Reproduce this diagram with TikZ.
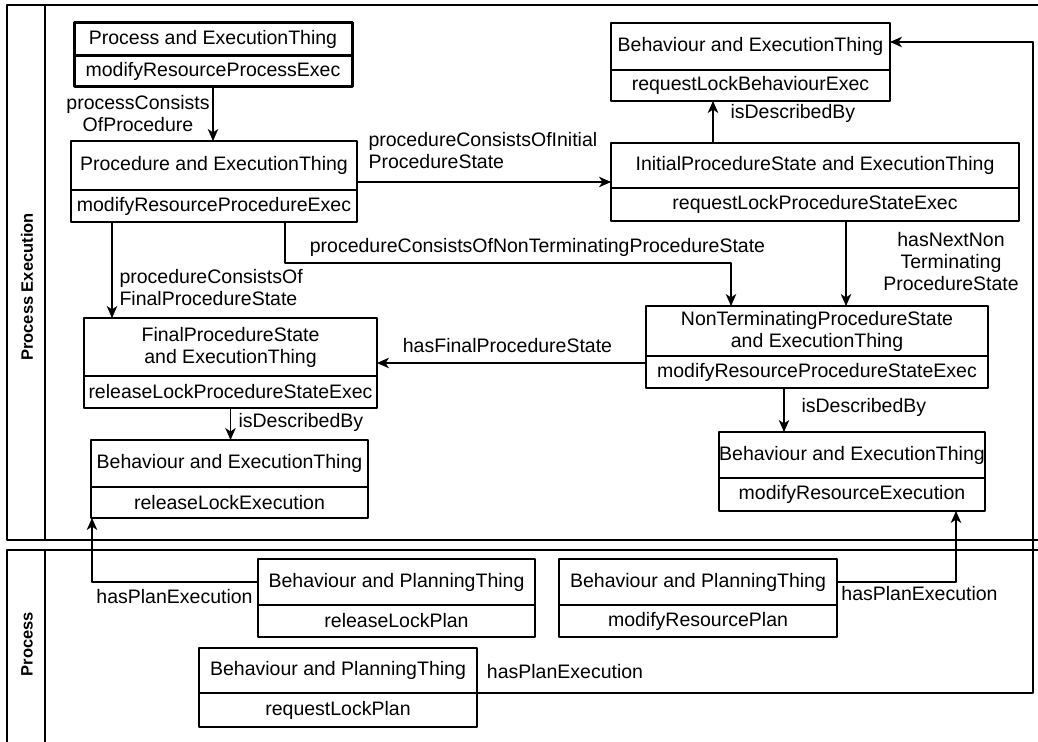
\documentclass[tikz,border=0pt]{standalone}
\usepackage{fontspec}
\setmainfont{Liberation Sans}
\usetikzlibrary{arrows.meta,positioning}

\begin{document}
\begin{tikzpicture}[>={Stealth[length=12bp,width=10.5bp,inset=3.5bp]},line join=bevel,
  font=\fontsize{19.5bp}{22bp}\selectfont,line width=1.1bp,
  umlhead/.style={draw,rectangle,inner sep=0pt,outer sep=0pt,align=center},
  umlbody/.style={draw,rectangle,inner sep=0pt,outer sep=0pt,below=0bp of #1},
  edgelabel/.style={inner sep=0pt},
  flow/.style={black,->},
  pool/.style={draw,line width=1.1bp},
  poolname/.style={font=\fontsize{16.5bp}{20bp}\selectfont\bfseries,rotate=90},
]
\useasboundingbox (0bp,0bp) rectangle (1038bp,742bp);
\clip (0bp,0bp) rectangle (1038bp,742bp);
%% pools
\draw [pool] (7bp,737bp) rectangle (1060bp,202bp);
\draw [pool] (45bp,737bp) -- (45bp,202bp);
\node (lane_exec) at (27bp,455bp) [poolname] {Process Execution};
\draw [pool] (7bp,192bp) rectangle (1060bp,-20bp);
\draw [pool] (45bp,192bp) -- (45bp,-20bp);
\node (lane_plan) at (27bp,98bp) [poolname] {Process};
%% execution things
\node (procexec_head) at (213bp,702.5bp) [umlhead,line width=3bp,minimum width=278bp,minimum height=33bp] {Process and ExecutionThing};
  \node (procexec_body) [umlbody=procexec_head,line width=3bp,minimum width=278bp,minimum height=31bp] {modifyResourceProcessExec};
\node (proc_head) at (214bp,576.5bp) [umlhead,minimum width=286bp,minimum height=49bp] {Procedure and ExecutionThing};
  \node (proc_body) [umlbody=proc_head,minimum width=286bp,minimum height=32bp] {modifyResourceProcedureExec};
\node (reqbeh_head) at (750.5bp,695.5bp) [umlhead,minimum width=279bp,minimum height=47bp] {Behaviour and ExecutionThing};
  \node (reqbeh_body) [umlbody=reqbeh_head,minimum width=279bp,minimum height=31bp] {requestLockBehaviourExec};
\node (init_head) at (815bp,576.5bp) [umlhead,minimum width=408bp,minimum height=45bp] {InitialProcedureState and ExecutionThing};
  \node (init_body) [umlbody=init_head,minimum width=408bp,minimum height=33bp] {requestLockProcedureStateExec};
\node (nonterm_head) at (817bp,411bp) [umlhead,minimum width=342bp,minimum height=50bp] {NonTerminatingProcedureState\\and ExecutionThing};
  \node (nonterm_body) [umlbody=nonterm_head,minimum width=342bp,minimum height=32bp] {modifyResourceProcedureStateExec};
\node (final_head) at (230.5bp,395bp) [umlhead,minimum width=293bp,minimum height=58bp] {FinalProcedureState\\and ExecutionThing};
  \node (final_body) [umlbody=final_head,minimum width=293bp,minimum height=32bp] {releaseLockProcedureStateExec};
\node (relexec_head) at (229.5bp,278.5bp) [umlhead,minimum width=277bp,minimum height=47bp] {Behaviour and ExecutionThing};
  \node (relexec_body) [umlbody=relexec_head,minimum width=277bp,minimum height=31bp] {releaseLockExecution};
\node (modexec_head) at (852bp,287bp) [umlhead,minimum width=266bp,minimum height=46bp] {Behaviour and ExecutionThing};
  \node (modexec_body) [umlbody=modexec_head,minimum width=266bp,minimum height=33bp] {modifyResourceExecution};
%% planning things
\node (relplan_head) at (396.5bp,160bp) [umlhead,minimum width=277bp,minimum height=46bp] {Behaviour and PlanningThing};
  \node (relplan_body) [umlbody=relplan_head,minimum width=277bp,minimum height=32bp] {releaseLockPlan};
\node (modplan_head) at (698bp,160bp) [umlhead,minimum width=278bp,minimum height=46bp] {Behaviour and PlanningThing};
  \node (modplan_body) [umlbody=modplan_head,minimum width=278bp,minimum height=32bp] {modifyResourcePlan};
\node (reqplan_head) at (338bp,71.5bp) [umlhead,minimum width=278bp,minimum height=45bp] {Behaviour and PlanningThing};
  \node (reqplan_body) [umlbody=reqplan_head,minimum width=278bp,minimum height=34bp] {requestLockPlan};
%% relations
\draw [flow] (procexec_body.south) -- (procexec_body.south |- proc_head.north);
  \node (lbl_proc) at (138bp,628bp) [edgelabel,align=center] {processConsists\\OfProcedure};
\draw [flow] ([yshift=8bp]proc_head.south east) -- ([yshift=8bp]proc_head.south east -| init_head.west);
  \node (lbl_init) at (368bp,591.5bp) [edgelabel,anchor=west,align=left] {procedureConsistsOfInitial\\ProcedureState};
\draw [flow] ([xshift=-102bp]init_head.north) -- ([xshift=-102bp]init_head.north |- reqbeh_body.south);
  \node (lbl_initdesc) at (730bp,629bp) [edgelabel,anchor=west] {isDescribedBy};
\draw [flow] ([xshift=71bp]proc_body.south) |- ([xshift=-86bp,yshift=43bp]nonterm_head.north) -- ([xshift=-86bp]nonterm_head.north);
  \node (lbl_nonterm) at (537.5bp,495bp) [edgelabel] {procedureConsistsOfNonTerminatingProcedureState};
\draw [flow] ([xshift=-102bp]proc_body.south) -- ([xshift=-102bp]proc_body.south |- final_head.north);
  \node (lbl_final) at (119bp,454bp) [edgelabel,anchor=west,align=left] {procedureConsistsOf\\FinalProcedureState};
\draw [flow] ([xshift=31bp]init_body.south) -- ([xshift=31bp]init_body.south |- nonterm_head.north);
  \node (lbl_next) at (951bp,480.5bp) [edgelabel,align=center] {hasNextNon\\Terminating\\ProcedureState};
\draw [flow] ([yshift=-7bp]nonterm_head.south west) -- ([yshift=-7bp]nonterm_head.south west -| final_head.east);
  \node (lbl_hasfinal) at (507.5bp,396bp) [edgelabel] {hasFinalProcedureState};
\draw [flow] ([xshift=-33bp]nonterm_body.south) -- ([xshift=-33bp]nonterm_body.south |- modexec_head.north);
  \node (lbl_modesc) at (801bp,335bp) [edgelabel,anchor=west] {isDescribedBy};
\draw [flow] (final_body.south) -- (final_body.south |- relexec_head.north);
  \node (lbl_reldesc) at (238bp,320bp) [edgelabel,anchor=west] {isDescribedBy};
%
\draw [flow] (relplan_head.west) -| ([xshift=-137.5bp]relexec_body.south);
  \node (lbl_relplan) at (174.5bp,145bp) [edgelabel] {hasPlanExecution};
\draw [flow] (modplan_head.east) -| ([xshift=104bp]modexec_body.south);
  \node (lbl_modplan) at (919.5bp,148bp) [edgelabel] {hasPlanExecution};
\coordinate (rim_r) at (1033bp,700bp);
\draw [flow] (reqplan_body.north east) -| (rim_r) -- (rim_r -| reqbeh_head.east);
  \node (lbl_reqplan) at (565bp,70bp) [edgelabel] {hasPlanExecution};
%
\end{tikzpicture}
\end{document}
